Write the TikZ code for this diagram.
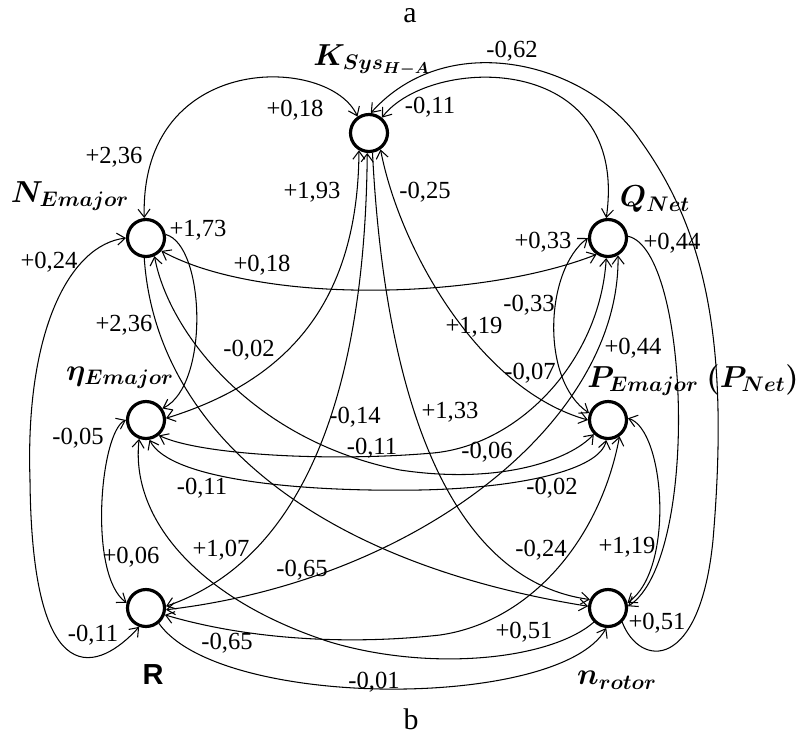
\documentclass[tikz,border=0pt]{standalone}
\usepackage{amsmath}
\usepackage{bm}
\usepackage{fontspec}
\setmainfont{Liberation Serif}
\newfontfamily\rfont{Liberation Sans}
\usetikzlibrary{arrows.meta}

\begin{document}
\begin{tikzpicture}[
			x=0.02cm,y=-0.02cm,
			factor/.style={circle,draw,line width=1.8pt,minimum size=7.4mm,inner sep=0pt},
			coef/.style={font=\fontsize{14}{16}\selectfont,inner sep=1pt},
			vname/.style={font=\fontsize{17.5}{20}\selectfont,inner sep=1pt},
			link/.style={line width=0.6pt},
			>={Straight Barb[length=1.6mm,width=2.4mm]}
			]
			\useasboundingbox (0,0) rectangle (801,738);
			
			% Factors
			\node[factor] (K) at (369,133){};
			\node[factor] (N) at (146,238){};
			\node[factor] (Q) at (608,238){};
			\node[factor] (E) at (146,420){};
			\node[factor] (P) at (608,420){};
			\node[factor] (R) at (146,608){};
			\node[factor] (n) at (608,608){};
			
			% Factor names
			\node[vname] (lK) at (372,60){$\bm{K_{Sys_{H-A}}}$};
			\node[vname] (lN) at (70,196){$\bm{N_{Emajor}}$};
			\node[vname] (lQ) at (655,199){$\bm{Q_{Net}}$};
			\node[vname] (lE) at (120,378){$\bm{\eta_{Emajor}}$};
			\node[vname] (lP) at (693,380){$\bm{P_{Emajor}\ (P_{Net})}$};
			\node[vname,font=\rfont\fontsize{16.5}{18}\selectfont\bfseries] (lR) at (153,675){R};
			\node[vname] (ln) at (617,680){$\bm{n_{rotor}}$};
			
			\node[font=\fontsize{17}{20}\selectfont,inner sep=0pt] (ta) at (410,16){a};
			\node[font=\fontsize{17}{20}\selectfont,inner sep=0pt] (tb) at (411,719){b};
			
			% Connections
			\draw[link,<->] (N.95) .. controls (140,50) and (330,55) .. (K.125);
			\draw[link,<->] (K.50) .. controls (430,55) and (630,50) .. (Q.95);
			\draw[link,->] (n.-45) .. controls (640,668) and (700,672) .. (713,540)
				.. controls (730,340) and (705,230) .. (640,140)
				.. controls (590,65) and (450,25) .. (K.85);
			\draw[link,<->] (N.-40) .. controls (260,305) and (480,300) .. (Q.-125);
			\draw[link,->] (N.10) .. controls (205,245) and (210,385) .. (E.35);
			\draw[link,<->] (N.180) .. controls (70,245) and (25,330) .. (30,480)
				.. controls (32,700) and (100,670) .. (R.-110);
			\draw[link,<->] (E.180) .. controls (100,432) and (88,575) .. (R.165);
			\draw[link,<->] (K.-120) .. controls (358,300) and (290,380) .. (E.5);
			\draw[link,<->] (K.-95) .. controls (365,400) and (300,560) .. (R.5);
			\draw[link,->] (K.-80) .. controls (385,400) and (450,580) .. (n.155);
			\draw[link,<->] (K.-55) .. controls (400,250) and (480,390) .. (P.180);
			\draw[link,->] (N.-95) .. controls (155,420) and (300,560) .. (n.175);
			\draw[link,<->] (N.-65) .. controls (168,330) and (250,440) .. (400,470)
				.. controls (500,485) and (570,460) .. (P.-135);
			\draw[link,<->] (E.-50) .. controls (200,455) and (330,462) .. (433,453)
				.. controls (520,445) and (600,360) .. (Q.-95);
			\draw[link,<->] (E.-80) .. controls (170,480) and (300,492) .. (420,490)
				.. controls (520,488) and (600,470) .. (P.-95);
			\draw[link,<->] (P.160) .. controls (540,380) and (545,270) .. (Q.180);
			\draw[link,->] (Q.5) .. controls (690,250) and (700,560) .. (n.5);
			\draw[link,<->] (P.5) .. controls (665,430) and (675,570) .. (n.15);
			\draw[link,<->] (R.-5) .. controls (420,580) and (620,420) .. (Q.-60);
			\draw[link,<->] (R.-20) .. controls (250,640) and (350,645) .. (440,635)
				.. controls (530,622) and (600,540) .. (P.-55);
			\draw[link,->] (n.-135) .. controls (550,660) and (430,672) .. (330,642)
				.. controls (200,600) and (130,520) .. (E.-110);
			\draw[link,->] (R.-50) .. controls (220,710) and (560,710) .. (n.-95);
			
			% Weights
			\node[coef] (w1) at (295,110){+0,18};
			\node[coef] (w2) at (114,157){+2,36};
			\node[coef] (w3) at (312,192){+1,93};
			\node[coef] (w4) at (198,230){+1,73};
			\node[coef] (w5) at (49,262){+0,24};
			\node[coef] (w6) at (512,51){-0,62};
			\node[coef] (w7) at (430,107){-0,11};
			\node[coef] (w8) at (425,192){-0,25};
			\node[coef] (w9) at (672,243){+0,44};
			\node[coef] (w10) at (543,242){+0,33};
			\node[coef] (w11) at (262,265){+0,18};
			\node[coef] (w12) at (124,325){+2,36};
			\node[coef] (w13) at (249,350){-0,02};
			\node[coef] (w14) at (78,438){-0,05};
			\node[coef] (w15) at (355,417){-0,14};
			\node[coef] (w16) at (372,448){-0,11};
			\node[coef] (w17) at (202,488){-0,11};
			\node[coef] (w18) at (529,305){-0,33};
			\node[coef] (w19) at (474,327){+1,19};
			\node[coef] (w20) at (633,348){+0,44};
			\node[coef] (w21) at (530,373){-0,07};
			\node[coef] (w22) at (450,412){+1,33};
			\node[coef] (w23) at (487,452){-0,06};
			\node[coef] (w24) at (552,488){-0,02};
			\node[coef] (w25) at (131,557){+0,06};
			\node[coef] (w26) at (221,550){+1,07};
			\node[coef] (w27) at (302,570){-0,65};
			\node[coef] (w28) at (93,635){-0,11};
			\node[coef] (w29) at (227,643){-0,65};
			\node[coef] (w30) at (374,682){-0,01};
			\node[coef] (w31) at (541,550){-0,24};
			\node[coef] (w32) at (627,547){+1,19};
			\node[coef] (w33) at (524,632){+0,51};
			\node[coef] (w34) at (657,623){+0,51};
			
		\end{tikzpicture}
\end{document}
